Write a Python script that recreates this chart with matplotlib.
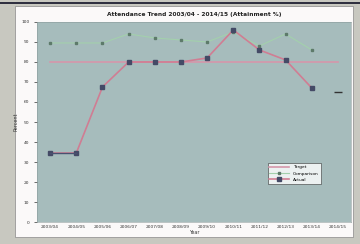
import matplotlib
matplotlib.use("Agg")
import matplotlib.pyplot as plt
from matplotlib.patches import Rectangle

years = ["2003/04", "2004/05", "2005/06", "2006/07", "2007/08", "2008/09",
         "2009/10", "2010/11", "2011/12", "2012/13", "2013/14", "2014/15"]
actual = [34.5, 34.5, 67.5, 80, 80, 80, 82, 96, 86, 81, 67, None]
comparison = [89.5, 89.5, 89.5, 94, 92, 91, 90, 95, 88, 94, 86, None]
target = [80] * 12
latest = [None] * 11 + [65]
yticks = list(range(0, 101, 10))

fig = plt.figure(figsize=(3.6, 2.44), dpi=100, facecolor="#c8c8c0")
fig.patches.append(Rectangle((0.042, 0.029), 0.938, 0.946, transform=fig.transFigure,
                             facecolor="#fbf9f9", edgecolor="#888888", linewidth=0.5, zorder=-2))
fig.patches.append(Rectangle((0.0, 0.985), 1.0, 0.006, transform=fig.transFigure,
                             facecolor="#303040", edgecolor="none", zorder=-2))
ax = fig.add_axes([0.103, 0.09, 0.872, 0.82])
ax.set_zorder(2)
ax.set_facecolor("#a6bcbc")
x = list(range(len(years)))
ax.plot(x, target, color="#d596aa", linewidth=1.2, label="Target", zorder=2)
ax.plot(x, comparison, color="#a3d0ac", linewidth=0.8, marker="s", markersize=2,
        markerfacecolor="#5d7a6a", markeredgecolor="#5d7a6a", label="Comparison", zorder=3)
ax.plot(x, actual, color="#d07d93", linewidth=1.2, marker="s", markersize=2.5,
        markerfacecolor="#444a66", markeredgecolor="#444a66", label="Actual", zorder=4)
ax.plot(x[:2], actual[:2], color="#4a5070", linewidth=1.0, zorder=4)
ax.plot(x, latest, color="#333333", marker="_", markersize=6, linestyle="none", zorder=4)
ax.set_xlim(-0.5, len(years) - 0.5)
ax.set_ylim(0, 100)
ax.set_yticks(yticks)
ax.set_xticks(x)
ax.set_xticklabels(years, fontsize=3.2, color="#333333")
ax.tick_params(axis="y", labelsize=3.2, colors="#333333", length=2, width=0.5)
ax.tick_params(axis="x", length=0, pad=2)
ax.set_title("Attendance Trend 2003/04 - 2014/15 (Attainment %)", fontsize=4.2,
             color="#222222", pad=4, fontweight="bold")
ax.set_ylabel("Percent", fontsize=3.5, color="#333333", labelpad=2)
ax.set_xlabel("Year", fontsize=3.5, color="#333333", labelpad=1)
for s in ax.spines.values():
    s.set_linewidth(0.4)
    s.set_color("#8a9a9a")
leg = ax.legend(loc="lower right", bbox_to_anchor=(0.91, 0.18), fontsize=3.2,
                frameon=True, fancybox=False, handlelength=4.5)
leg.get_frame().set_facecolor("#ffffff")
leg.get_frame().set_edgecolor("#333333")
leg.get_frame().set_linewidth(0.5)
fig.savefig("out.png", dpi=100, facecolor=fig.get_facecolor())
